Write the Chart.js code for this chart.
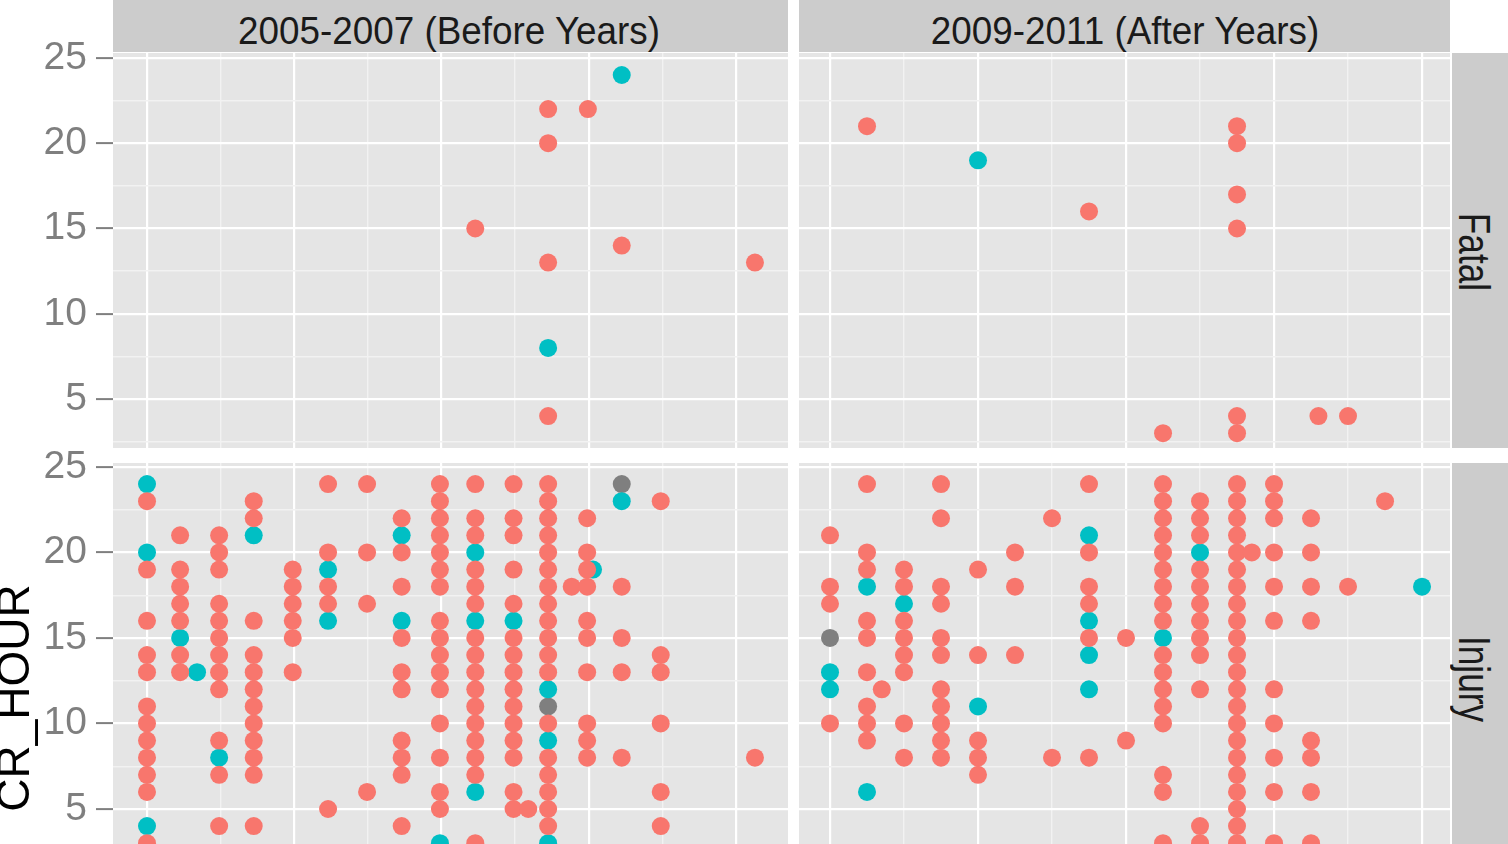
<!DOCTYPE html>
<html>
<head>
<meta charset="utf-8">
<script src="https://cdn.jsdelivr.net/npm/chart.js@4.4.1/dist/chart.umd.min.js"></script>
<style>
html,body{margin:0;padding:0;background:#ffffff;overflow:hidden;width:1508px;height:844px;}
#wrap{position:relative;width:1508px;height:844px;overflow:hidden;font-family:"Liberation Sans",Arial,Helvetica,sans-serif;background:#fff;}
canvas{position:absolute;}
.strip{position:absolute;background:#cccccc;}
.stxt{position:absolute;white-space:nowrap;color:#1a1a1a;line-height:1;}
</style>
</head>
<body>
<div id="wrap">
  <div class="strip" style="left:113px;top:0;width:675px;height:52px"></div>
  <div class="strip" style="left:799px;top:0;width:651px;height:52px"></div>
  <div class="strip" style="left:1452px;top:53px;width:56px;height:395px"></div>
  <div class="strip" style="left:1452px;top:463px;width:56px;height:470px"></div>
  <div class="stxt" id="colLab0" style="left:449px;top:31px;font-size:38px;transform:translate(-50%,-50%) scaleX(0.97)"></div>
  <div class="stxt" id="colLab1" style="left:1125px;top:31px;font-size:38px;transform:translate(-50%,-50%) scaleX(0.97)"></div>
  <div class="stxt" id="rowLab0" style="left:1474px;top:252px;font-size:44px;transform:translate(-50%,-50%) rotate(90deg) scaleX(0.8)"></div>
  <div class="stxt" id="rowLab1" style="left:1474px;top:679px;font-size:44px;transform:translate(-50%,-50%) rotate(90deg) scaleX(0.8)"></div>
  <canvas id="pFB" width="788" height="425" style="left:0;top:23px;width:788px;height:425px"></canvas>
  <canvas id="pFA" width="651" height="425" style="left:799px;top:23px;width:651px;height:425px"></canvas>
  <canvas id="pIB" width="788" height="500" style="left:0;top:433px;width:788px;height:500px"></canvas>
  <canvas id="pIA" width="651" height="500" style="left:799px;top:433px;width:651px;height:500px"></canvas>
</div>
<script>
// ---- labels ----
const colLabels = ['2005-2007 (Before Years)', '2009-2011 (After Years)'];
const rowLabels = ['Fatal', 'Injury'];
const yTitle = 'CR_HOUR';
const yGridFatal = [2.5, 5, 7.5, 10, 12.5, 15, 17.5, 20, 22.5, 25];
const yGridInjury = [0, 2.5, 5, 7.5, 10, 12.5, 15, 17.5, 20, 22.5, 25];
const xGrid = [0, 10, 20, 30, 40, 50, 60, 70, 80];

// ---- data: [x, [CR_HOUR values...]] per column ----
const fatalBeforeRed = [[44.6,[15]],[54.5,[22,20,13,4]],[59.9,[22]],[64.5,[14]],[82.6,[13]]];
const fatalBeforeTeal = [[64.5,[24]],[54.5,[8]]];
const fatalBeforeGrey = [];

const fatalAfterRed = [[5,[21]],[35,[16]],[45,[3]],[55,[21,20,17,15,4,3]],[66,[4]],[70,[4]]];
const fatalAfterTeal = [[20,[19]]];
const fatalAfterGrey = [];

const injuryBeforeRed = [
  [0,[23,19,16,14,13,11,10,9,8,7,6,3]],
  [4.5,[21,19,18,17,16,14,13]],
  [9.8,[21,20,19,17,16,15,14,13,12,9,7,4]],
  [14.5,[23,22,16,14,13,12,11,10,9,8,7,4]],
  [19.8,[19,18,17,16,15,13]],
  [24.6,[24,20,18,17,5]],
  [29.9,[24,20,17,6]],
  [34.6,[22,20,18,15,13,12,9,8,7,4]],
  [39.8,[24,23,22,21,20,19,18,16,15,14,13,12,10,8,6,5]],
  [44.6,[24,22,21,19,18,17,15,14,13,12,11,10,9,8,7,3]],
  [49.8,[24,22,21,19,17,15,14,13,12,11,10,9,8,6,5]],
  [51.8,[5]],
  [54.5,[24,23,22,21,20,19,18,17,16,15,14,13,10,8,7,6,5,4]],
  [57.7,[18]],
  [59.8,[22,20,19,18,16,15,13,10,9,8]],
  [64.5,[18,15,13,8]],
  [69.8,[23,14,13,10,6,4]],
  [82.6,[8]]
];
const injuryBeforeTeal = [
  [0,[24,20,4]],[4.5,[15]],[6.8,[13]],[9.8,[8]],[14.5,[21]],[24.6,[19,16]],
  [34.6,[21,16]],[39.8,[3]],[44.6,[20,16,6]],[49.8,[16]],[54.5,[12,9,3]],[60.6,[19]],[64.5,[23]]
];
const injuryBeforeGrey = [[54.5,[11]],[64.5,[24]]];

const injuryAfterRed = [
  [0,[21,18,17,10]],
  [5,[24,20,19,16,15,13,11,10,9]],
  [7,[12]],
  [10,[19,18,16,15,14,13,10,8]],
  [15,[24,22,18,17,15,14,12,11,10,9,8]],
  [20,[19,14,9,8,7]],
  [25,[20,18,14]],
  [30,[22,8]],
  [35,[24,20,18,17,15,8]],
  [40,[15,9]],
  [45,[24,23,22,21,20,19,18,17,16,14,13,12,11,10,7,6,3]],
  [50,[23,22,21,19,18,17,16,15,14,12,4,3]],
  [55,[24,23,22,21,20,19,18,17,16,15,14,13,12,11,10,9,8,7,6,5,4,3]],
  [57,[20]],
  [60,[24,23,22,20,18,16,12,10,8,6,3]],
  [65,[22,20,18,16,9,8,6,3]],
  [70,[18]],
  [75,[23]]
];
const injuryAfterTeal = [[0,[13,12]],[5,[18,6]],[10,[17]],[20,[11]],[35,[21,16,14,12]],[45,[15]],[50,[20]],[80,[18]]];
const injuryAfterGrey = [[0,[15]]];

// ---- colours ----
const RED = '#F8766D', TEAL = '#00BFC4', GREY = '#7F7F7F';
const FONT = '"Liberation Sans", Arial, Helvetica, sans-serif';

document.getElementById('colLab0').textContent = colLabels[0];
document.getElementById('colLab1').textContent = colLabels[1];
document.getElementById('rowLab0').textContent = rowLabels[0];
document.getElementById('rowLab1').textContent = rowLabels[1];

function toPts(cols){
  const out = [];
  cols.forEach(([x, ys]) => ys.forEach(y => out.push({x: x, y: y})));
  return out;
}

const panelBg = {
  id: 'panelBg',
  beforeDraw(chart){
    const {ctx, chartArea: a} = chart;
    ctx.save();
    ctx.fillStyle = '#e5e5e5';
    ctx.fillRect(a.left, a.top, a.right - a.left, a.bottom - a.top);
    ctx.restore();
  }
};

function zeroPad(s){ s.paddingTop = 0; s.paddingBottom = 0; s.paddingLeft = 0; s.paddingRight = 0; }

function panel(id, o){
  const ds = [
    {data: toPts(o.red), backgroundColor: RED},
    {data: toPts(o.teal), backgroundColor: TEAL},
    {data: toPts(o.grey), backgroundColor: GREY}
  ].map(d => Object.assign(d, {pointRadius: 9, pointHoverRadius: 9, borderWidth: 0, pointBorderWidth: 0}));
  new Chart(document.getElementById(id), {
    type: 'scatter',
    data: {datasets: ds},
    plugins: [panelBg],
    options: {
      responsive: false,
      animation: false,
      events: [],
      layout: {padding: {top: 30, left: 0, right: 0, bottom: 0}, autoPadding: false},
      plugins: {legend: {display: false}, tooltip: {enabled: false}},
      scales: {
        x: {
          type: 'linear', min: o.xMin, max: o.xMax, position: 'bottom',
          border: {display: false},
          ticks: {display: false, autoSkip: false},
          grid: {
            drawTicks: false,
            color: c => (c.tick && c.tick.value % 20 === 0) ? '#ffffff' : '#f2f2f2',
            lineWidth: c => (c.tick && c.tick.value % 20 === 0) ? 2.2 : 1.4
          },
          afterBuildTicks: s => { s.ticks = xGrid.map(v => ({value: v})); },
          afterFit: s => { s.height = 0; zeroPad(s); }
        },
        y: {
          type: 'linear', min: o.yMin, max: o.yMax, position: 'left',
          border: {display: false},
          title: o.title ? {display: true, text: o.title, color: '#000000', padding: 0,
                  font: {family: FONT, size: 46, lineHeight: 0.72}} : {display: false},
          ticks: {
            display: o.showY, autoSkip: false, padding: 9, color: '#7f7f7f',
            font: {family: FONT, size: 39},
            callback: v => (v % 5 === 0) ? String(v) : ''
          },
          grid: {
            drawTicks: o.showY, tickLength: 17, tickWidth: 2,
            tickColor: c => (c.tick && c.tick.value % 5 === 0) ? '#7f7f7f' : 'rgba(0,0,0,0)',
            color: c => (c.tick && c.tick.value % 5 === 0) ? '#ffffff' : '#f2f2f2',
            lineWidth: c => (c.tick && c.tick.value % 5 === 0) ? 2.2 : 1.4
          },
          afterBuildTicks: s => { s.ticks = o.yGrid.map(v => ({value: v})); },
          afterFit: s => { s.width = o.showY ? 113 : 0; zeroPad(s); }
        }
      }
    }
  });
}

const leftX = {xMin: -4.62, xMax: 87.09};
const rightX = {xMin: -4.19, xMax: 83.78};
const fatalY = {yMin: 2.13, yMax: 25.29, yGrid: yGridFatal};
const injuryY = {yMin: -2.25, yMax: 25.23, yGrid: yGridInjury};

panel('pFB', Object.assign({red: fatalBeforeRed, teal: fatalBeforeTeal, grey: fatalBeforeGrey, showY: true, title: null}, leftX, fatalY));
panel('pFA', Object.assign({red: fatalAfterRed, teal: fatalAfterTeal, grey: fatalAfterGrey, showY: false, title: null}, rightX, fatalY));
panel('pIB', Object.assign({red: injuryBeforeRed, teal: injuryBeforeTeal, grey: injuryBeforeGrey, showY: true, title: yTitle}, leftX, injuryY));
panel('pIA', Object.assign({red: injuryAfterRed, teal: injuryAfterTeal, grey: injuryAfterGrey, showY: false, title: null}, rightX, injuryY));
</script>
</body>
</html>
